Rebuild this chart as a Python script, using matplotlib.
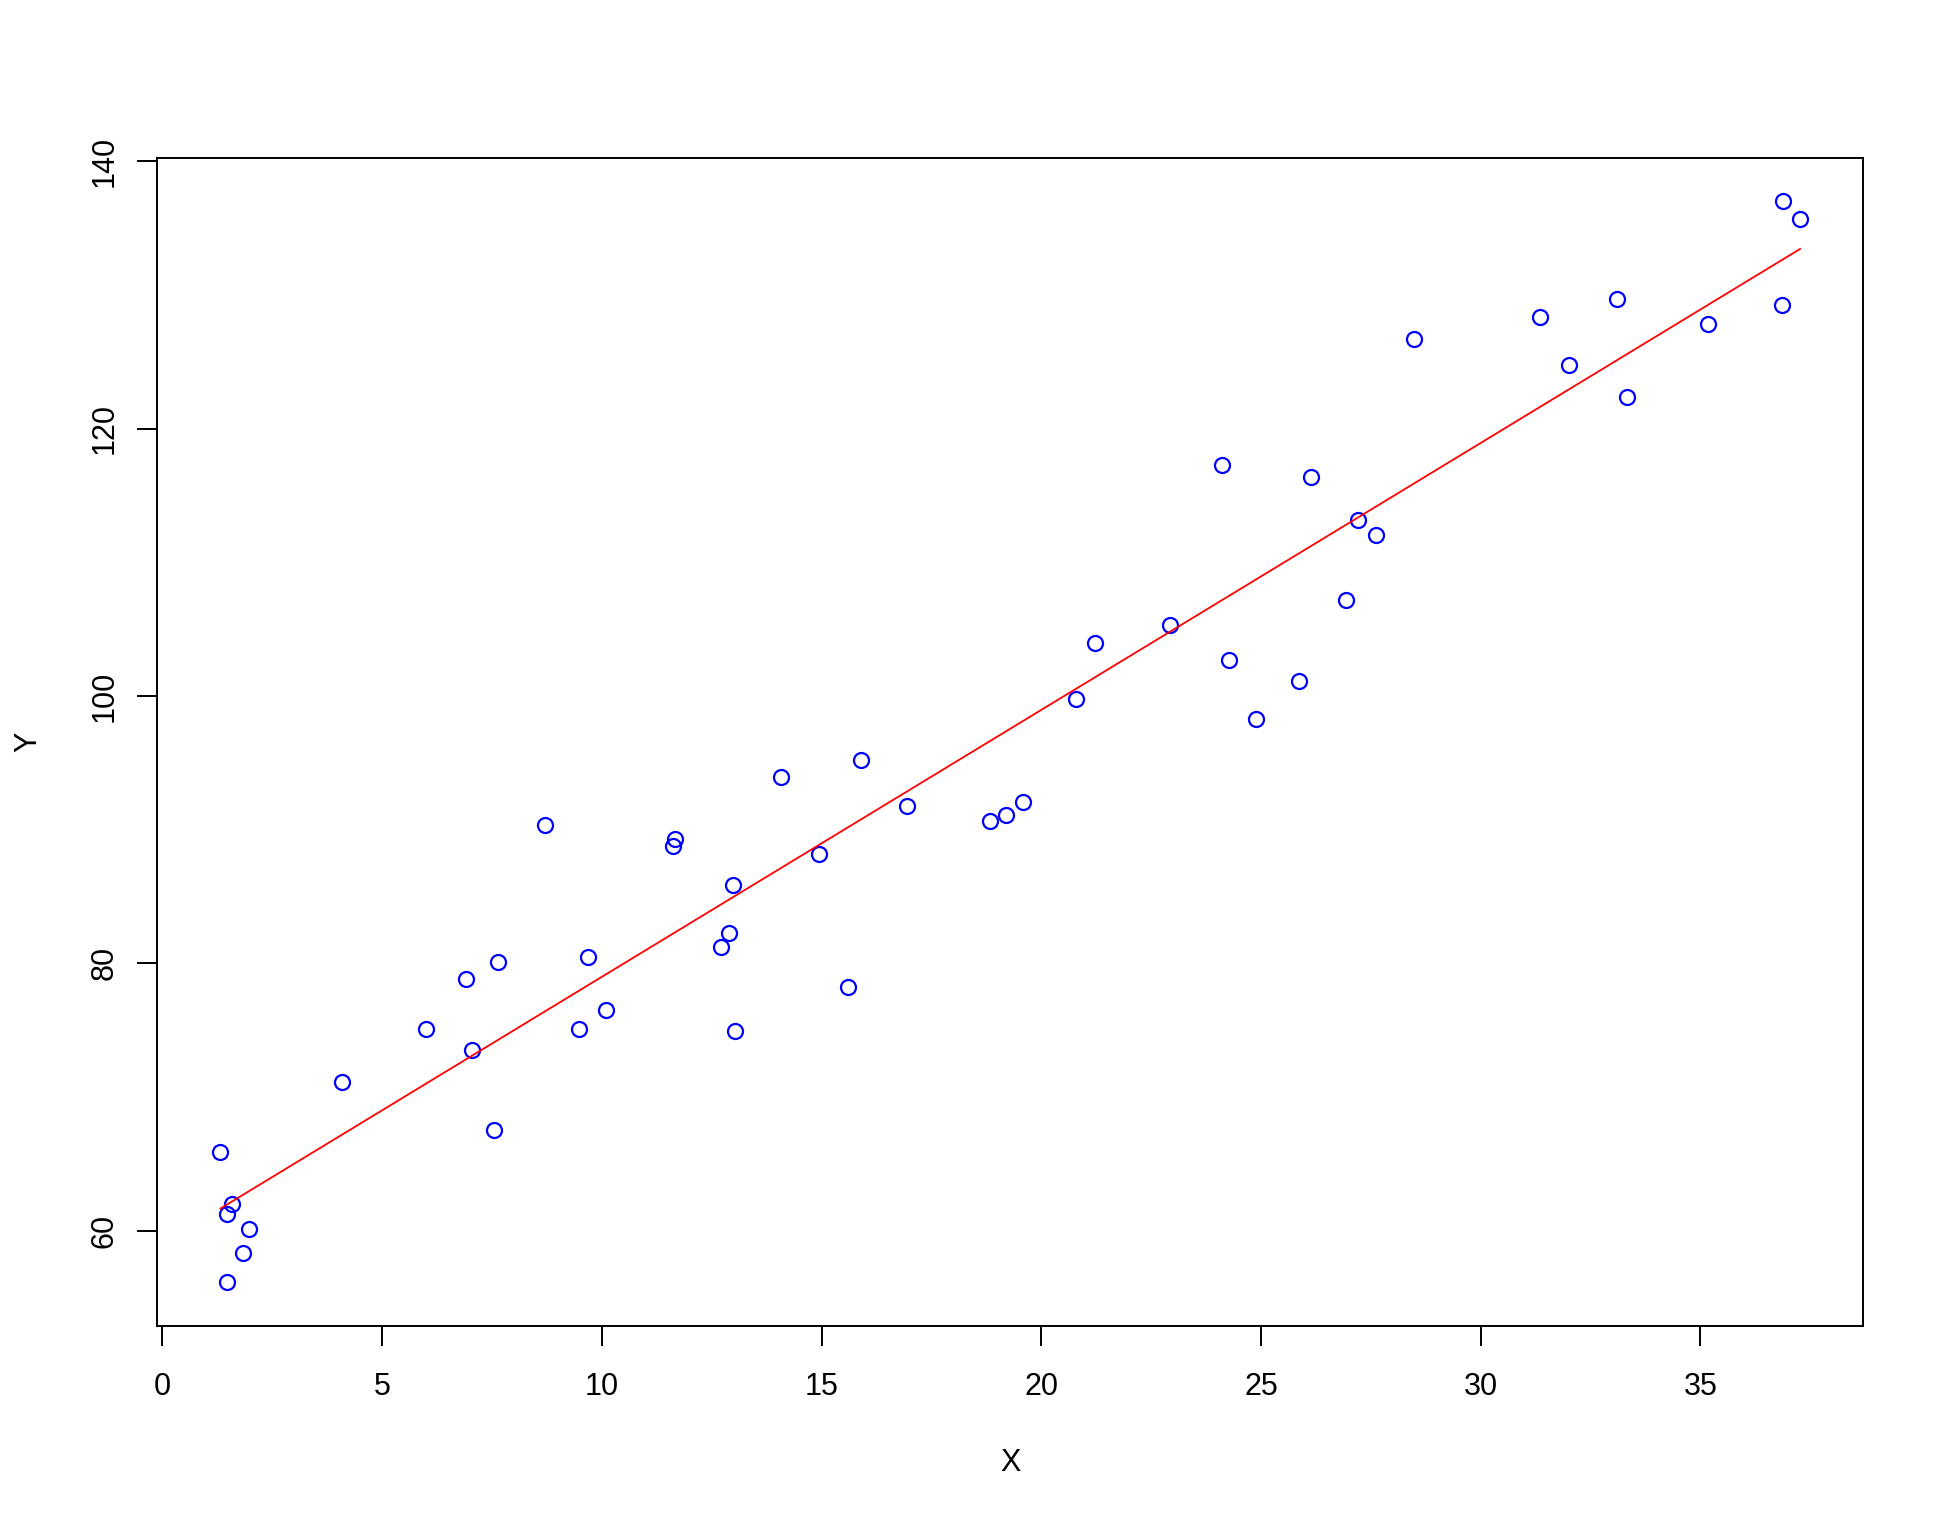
import numpy as np
import matplotlib
matplotlib.use("Agg")
import matplotlib.pyplot as plt

# data
x = [1.32, 1.48, 1.59, 1.98, 1.84, 1.48,
     4.09, 5.99, 6.90, 7.05, 7.64, 7.55,
     8.71, 9.68, 9.49, 10.09, 11.67, 11.63, 12.98, 12.90, 12.71, 13.02,
     14.07, 14.94, 15.61, 15.89, 16.94, 18.84, 19.19, 19.58, 20.80, 21.22, 22.94,
     24.12, 24.27, 24.89, 25.86, 26.14, 26.94, 27.20, 27.62, 28.48,
     31.35, 32.00, 33.11, 33.33, 35.17, 36.85, 36.89, 37.27]
y = [65.91, 61.22, 62.00, 60.10, 58.36, 56.13,
     71.14, 75.08, 78.79, 73.51, 80.11, 67.55,
     90.36, 80.49, 75.10, 76.52, 89.33, 88.79, 85.89, 82.28, 81.21, 74.92,
     93.97, 88.14, 78.24, 95.21, 91.80, 90.65, 91.13, 92.10, 99.80, 103.96, 105.31,
     117.27, 102.69, 98.26, 101.12, 116.35, 107.18, 113.18, 112.01, 126.71,
     128.34, 124.77, 129.73, 122.36, 127.84, 129.21, 137.03, 135.69]
xticks = [0, 5, 10, 15, 20, 25, 30, 35]
yticks = [60, 80, 100, 120, 140]

plt.rcParams['font.family'] = ['Liberation Sans', 'DejaVu Sans']

fig, ax = plt.subplots(figsize=(9.72, 7.61), dpi=200)
fig.subplots_adjust(left=0.0809, right=0.9585, top=0.8964, bottom=0.1290)

ax.plot(x, y, 'o', mfc='none', mec='blue', ms=5.4, mew=0.8)

# least squares line over the x range
xs = np.array(x)
b, a = np.polyfit(xs, np.array(y), 1)
xl = np.array([xs.min(), xs.max()])
ax.plot(xl, a + b * xl, color='red', lw=0.65)

# R style 4% padding
xr = xs.max() - xs.min()
yr = max(y) - min(y)
ax.set_xlim(xs.min() - 0.04 * xr, xs.max() + 0.04 * xr)
ax.set_ylim(min(y) - 0.04 * yr, max(y) + 0.04 * yr)

ax.set_xticks(xticks)
ax.set_yticks(yticks)
ax.set_xticklabels([str(t) for t in xticks])
ax.set_yticklabels([str(t) for t in yticks], rotation=90, va='center')
ax.tick_params(direction='out', length=7.2, width=0.7, labelsize=11)
ax.tick_params(axis='x', pad=9.5)
ax.tick_params(axis='y', pad=6.5)
for s in ax.spines.values():
    s.set_linewidth(0.7)

ax.set_xlabel('X', fontsize=11, labelpad=16.5)
ax.set_ylabel('Y', fontsize=11, labelpad=16.5)

fig.savefig('out.png', dpi=200)
